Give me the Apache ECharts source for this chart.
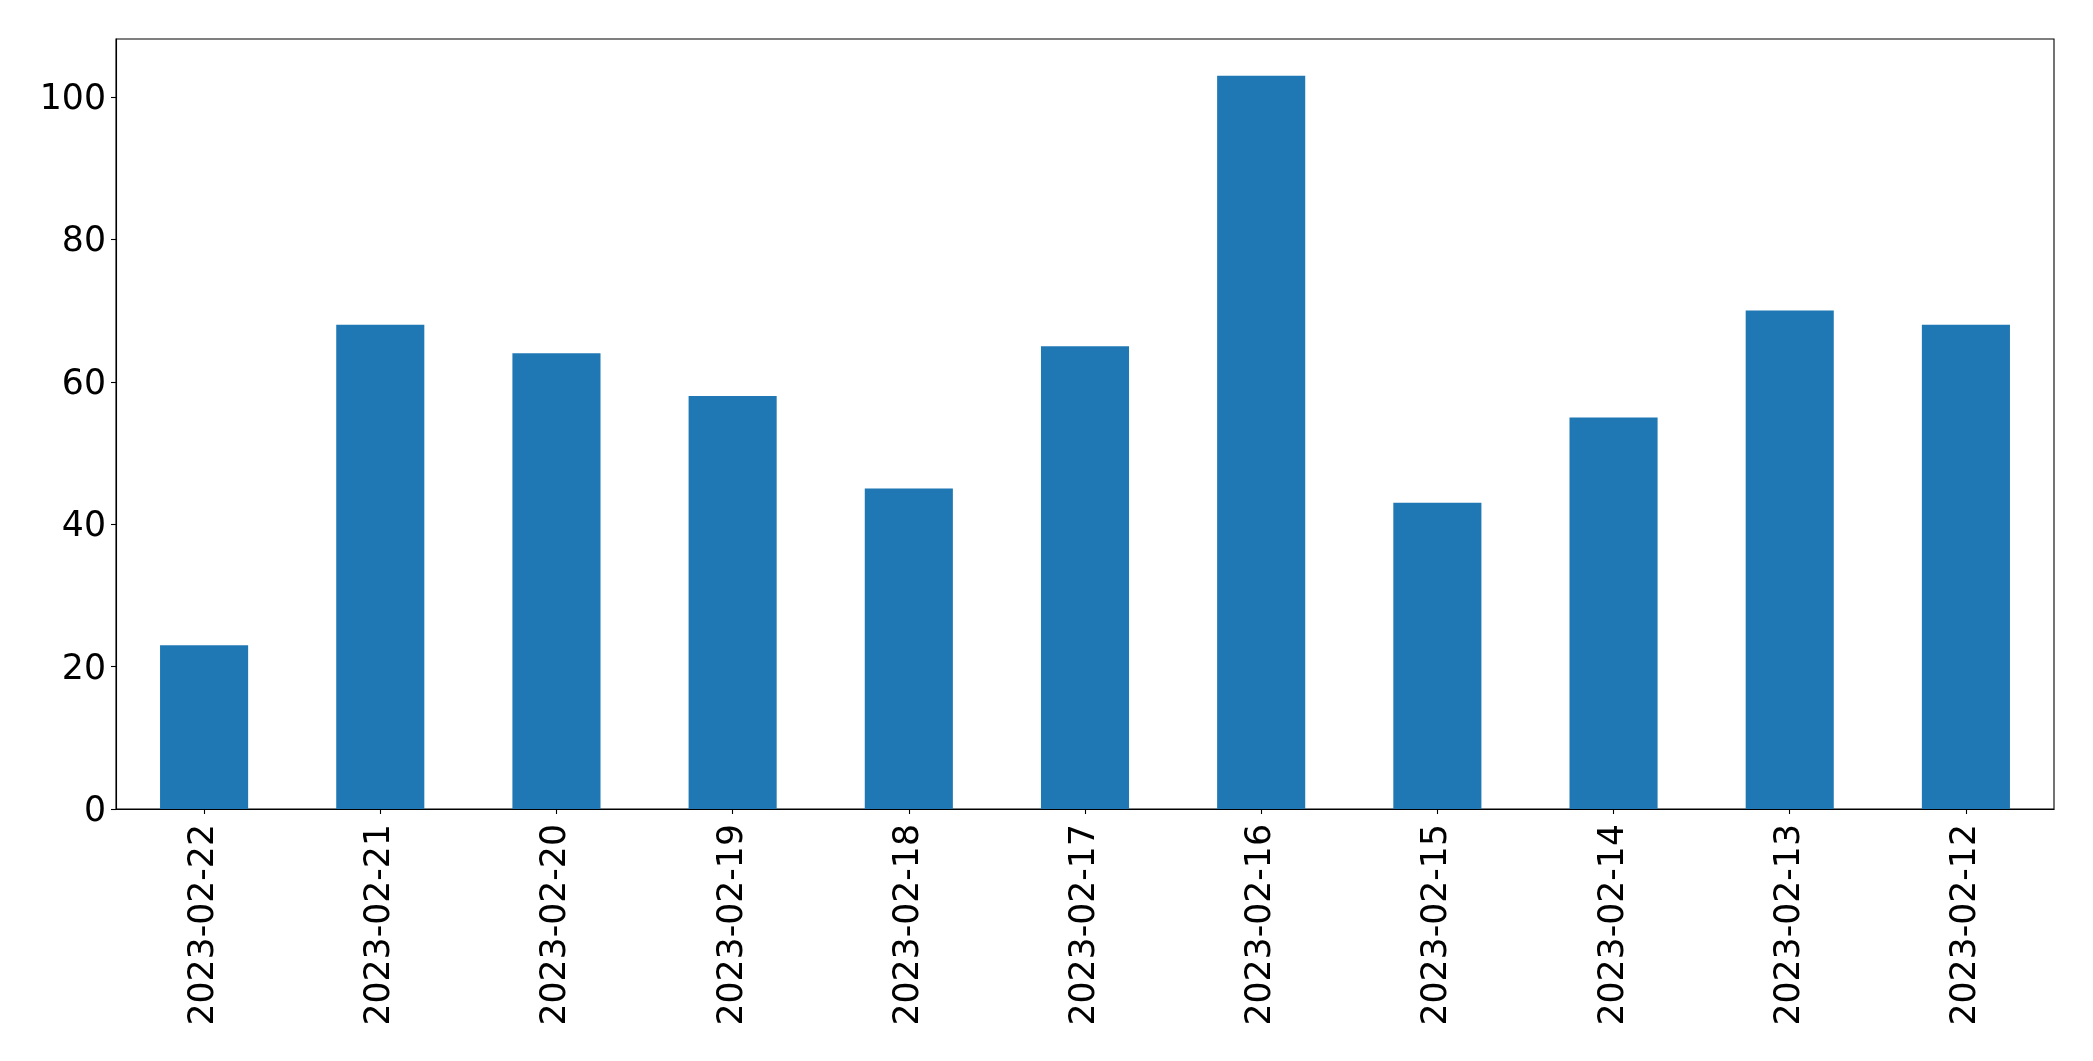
<!DOCTYPE html>
<html>
<head>
<meta charset="utf-8">
<script src="https://cdn.jsdelivr.net/npm/echarts@6/dist/echarts.min.js"></script>
<style>
html, body { margin: 0; padding: 0; background: #fff; }
#chart { width: 2093px; height: 1061px; }
</style>
</head>
<body>
<div id="chart"></div>
<script>
const categories = ['2023-02-22', '2023-02-21', '2023-02-20', '2023-02-19', '2023-02-18', '2023-02-17', '2023-02-16', '2023-02-15', '2023-02-14', '2023-02-13', '2023-02-12'];
const values = [23, 68, 64, 58, 45, 65, 103, 43, 55, 70, 68];
const yTicks = [0, 20, 40, 60, 80, 100];
const yMax = 108.15;

const FONT = 'DejaVu Sans';
const chart = echarts.init(document.getElementById('chart'), null, { renderer: 'canvas' });
chart.setOption({
  animation: false,
  backgroundColor: '#ffffff',
  grid: {
    left: 116, top: 39, right: 39, bottom: 252,
    show: true, borderColor: '#000', borderWidth: 1.1, backgroundColor: 'transparent'
  },
  xAxis: {
    type: 'category',
    data: categories,
    boundaryGap: true,
    axisLine: { show: true, lineStyle: { color: '#000', width: 1.1 } },
    axisTick: { show: true, alignWithLabel: true, length: 5, lineStyle: { color: '#000', width: 1.1 } },
    axisLabel: { rotate: 90, margin: 15, color: '#000', fontFamily: FONT, fontSize: 34.7, interval: 0 },
    splitLine: { show: false }
  },
  yAxis: {
    type: 'value',
    min: 0,
    max: yMax,
    interval: 20,
    axisLine: { show: true, lineStyle: { color: '#000', width: 1.1 } },
    axisTick: { show: true, length: 5, customValues: yTicks, lineStyle: { color: '#000', width: 1.1 } },
    axisLabel: {
      margin: 10, color: '#000', fontFamily: FONT, fontSize: 34.7, customValues: yTicks,
      formatter: function (v) { return '{a|' + v + '}'; },
      rich: { a: { fontFamily: FONT, fontSize: 34.7, color: '#000', padding: [6, 0, 0, 0] } }
    },
    splitLine: { show: false }
  },
  series: [{
    type: 'bar',
    data: values,
    barWidth: '50%',
    itemStyle: { color: '#1f77b4' }
  }]
});
</script>
</body>
</html>
